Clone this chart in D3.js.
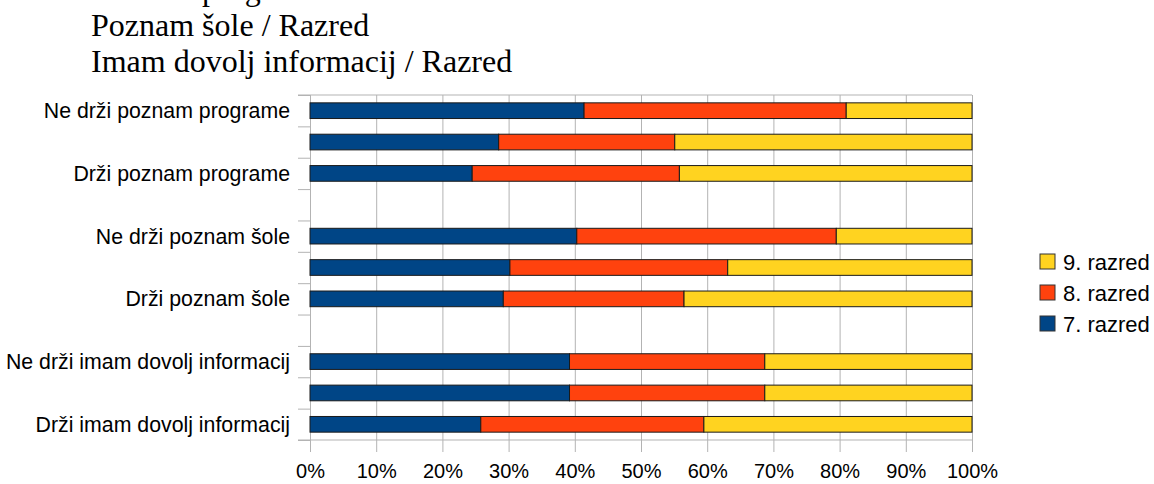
<!DOCTYPE html>
<html>
<head>
<meta charset="utf-8">
<script src="https://cdn.jsdelivr.net/npm/d3@7"></script>
<style>
  body { margin: 0; background: #fff; }
  svg { display: block; }
</style>
</head>
<body>
<div id="chart"></div>
<script>
// Chart data (percent of each row, per grade)
const titleLines = ["Poznam programe / Razred", "Poznam šole / Razred", "Imam dovolj informacij / Razred"];
const categories = ["Ne drži poznam programe", "", "Drži poznam programe", null,
                    "Ne drži poznam šole", "", "Drži poznam šole", null,
                    "Ne drži imam dovolj informacij", "", "Drži imam dovolj informacij"];
const razred7 = [41.4, 28.5, 24.5, null, 40.3, 30.2, 29.2, null, 39.2, 39.2, 25.8];
const razred8 = [39.6, 26.6, 31.3, null, 39.2, 32.9, 27.3, null, 29.5, 29.5, 33.7];
const razred9 = [19.0, 44.9, 44.2, null, 20.5, 36.9, 43.5, null, 31.3, 31.3, 40.5];
const seriesNames = ["7. razred", "8. razred", "9. razred"];
const seriesColors = ["#004586", "#ff420e", "#ffd320"];
const xTicks = [0, 10, 20, 30, 40, 50, 60, 70, 80, 90, 100];

function createChart() {
    const W = 1154, H = 484;
    const plot = { left: 310, right: 972, top: 95, bottom: 440 };
    const sans = "'Liberation Sans', Arial, sans-serif";

    const svg = d3.select("#chart").append("svg")
        .attr("width", W)
        .attr("height", H);

    // Title lines (top one is cut off by the top edge)
    svg.selectAll(".title")
        .data(titleLines)
        .enter().append("text")
        .attr("class", "title")
        .attr("x", 91)
        .attr("y", (d, i) => 0 + i * 36)
        .style("font-family", "'Liberation Serif', 'Times New Roman', serif")
        .style("font-size", "32px")
        .style("fill", "#000")
        .text(d => d);

    const keys = categories.map((c, i) => String(i));

    const x = d3.scaleLinear()
        .domain([0, 100])
        .range([plot.left, plot.right]);

    const y = d3.scaleBand()
        .domain(keys)
        .range([plot.top, plot.bottom])
        .paddingInner(0.5)
        .paddingOuter(0.25);

    // slot boundaries for the left tick marks
    const slots = d3.scaleLinear()
        .domain([0, keys.length])
        .range([plot.top, plot.bottom]);

    const gridColor = "#b3b3b3";

    // vertical grid lines, extending below as ticks
    svg.append("g")
        .attr("transform", `translate(0,${plot.top})`)
        .call(d3.axisBottom(x).tickValues(xTicks).tickSize(plot.bottom - plot.top + 12).tickFormat(""))
        .call(g => g.select(".domain").remove())
        .call(g => g.selectAll(".tick line").attr("stroke", gridColor));

    // left tick marks at category boundaries
    svg.append("g")
        .attr("transform", `translate(${plot.left},0)`)
        .call(d3.axisLeft(slots).tickValues(d3.range(0, keys.length + 1)).tickSize(12).tickFormat(""))
        .call(g => g.select(".domain").attr("stroke", gridColor))
        .call(g => g.selectAll(".tick line").attr("stroke", gridColor));

    // top and bottom frame lines
    [plot.top, plot.bottom].forEach(yy => {
        svg.append("line")
            .attr("x1", plot.left - 12).attr("x2", plot.right)
            .attr("y1", yy).attr("y2", yy)
            .attr("stroke", gridColor);
    });

    // x tick labels
    svg.append("g")
        .attr("transform", `translate(0,${plot.bottom})`)
        .call(d3.axisBottom(x).tickValues(xTicks).tickSize(0).tickPadding(0).tickFormat(d => d + "%"))
        .call(g => g.select(".domain").remove())
        .call(g => g.selectAll("text")
            .attr("y", 38)
            .attr("dy", null)
            .style("font-family", sans)
            .style("font-size", "20px")
            .style("fill", "#000"));

    // category labels
    svg.selectAll(".cat-label")
        .data(categories.map((c, i) => ({ key: String(i), label: c })).filter(d => d.label))
        .enter().append("text")
        .attr("class", "cat-label")
        .attr("x", plot.left - 20)
        .attr("y", d => y(d.key) + y.bandwidth() / 2)
        .attr("dy", "0.35em")
        .attr("text-anchor", "end")
        .style("font-family", sans)
        .style("font-size", "21.3px")
        .style("fill", "#000")
        .text(d => d.label);

    // stacked bars
    const table = keys.map((k, i) => ({
        key: k,
        r7: razred7[i], r8: razred8[i], r9: razred9[i]
    })).filter(d => d.r7 != null);

    const stack = d3.stack().keys(["r7", "r8", "r9"]);
    const stacked = stack(table);

    svg.selectAll(".series")
        .data(stacked)
        .enter().append("g")
        .attr("class", "series")
        .attr("fill", (d, i) => seriesColors[i])
        .selectAll("rect")
        .data(d => d)
        .enter().append("rect")
        .attr("x", d => x(d[0]))
        .attr("y", d => y(d.data.key))
        .attr("width", d => x(d[1]) - x(d[0]))
        .attr("height", y.bandwidth())
        .attr("stroke", "#1a1a1a")
        .attr("stroke-width", 1);

    // legend (9. razred on top)
    const legend = svg.append("g")
        .attr("transform", "translate(1040,254)");

    const items = seriesNames.map((n, i) => ({ name: n, color: seriesColors[i] })).reverse();

    const li = legend.selectAll(".legend-item")
        .data(items)
        .enter().append("g")
        .attr("class", "legend-item")
        .attr("transform", (d, i) => `translate(0,${i * 31})`);

    li.append("rect")
        .attr("width", 15)
        .attr("height", 15)
        .attr("fill", d => d.color)
        .attr("stroke", "#333");

    li.append("text")
        .attr("x", 23)
        .attr("y", 8)
        .attr("dy", "0.35em")
        .style("font-family", sans)
        .style("font-size", "22px")
        .style("fill", "#000")
        .text(d => d.name);
}

createChart();
</script>
</body>
</html>
